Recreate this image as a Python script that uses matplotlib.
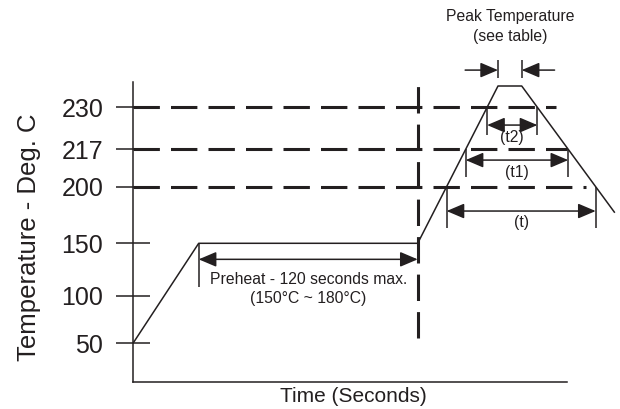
import numpy as np
import matplotlib
matplotlib.use("Agg")
import matplotlib.pyplot as plt

plt.rcParams["font.family"] = ["Liberation Sans", "DejaVu Sans"]
plt.rcParams["lines.scale_dashes"] = False

INK = "#231f20"

# reflow profile: time (s) vs temperature (deg C)
profile_time = [0, 36, 156, 200, 213, 264]
profile_temp = [50, 150, 150, 240, 240, 177]

temp_ticks = [50, 100, 150, 200, 217, 230]

# time-above-limit windows
limit_temps = [230, 217, 200]
limit_ends = [232, 238, 248]
limit_labels = ["(t2)", "(t1)", "(t)"]
arrow_temps = [224.5, 212.1, 178.5]
tick_bottoms = [221.4, 204.4, 163.5]

preheat_start, preheat_end = 36, 156
preheat_arrow_temp = 134.7
preheat_tick_bottom = 108.3
preheat_text_temp = 106.4
preheat_text = "Preheat - 120 seconds max.\n(150°C ~ 180°C)"

marker_time = 156
marker_span = [56, 242]

peak_arrow_temp = 247.4
peak_tick_span = [243.7, 252]
peak_arrow_len = 18
peak_text_temp = 267.7
peak_text = "Peak Temperature\n(see table)"

# the temperature axis of the drawing is not linear: piecewise scale
scale_temps = [12, 50, 100, 150, 200, 217, 230, 240, 280]
scale_pos = [0, 38.4, 86.0, 138.4, 195.0, 232.4, 274.4, 295.7, 381.7]


def fwd(t):
    return np.interp(t, scale_temps, scale_pos)


def inv(p):
    return np.interp(p, scale_pos, scale_temps)


def crossing(level, i):
    # time where profile segment i -> i+1 passes a temperature level
    t0, t1 = profile_time[i], profile_time[i + 1]
    y0, y1 = fwd(profile_temp[i]), fwd(profile_temp[i + 1])
    f = (fwd(level) - y0) / (y1 - y0)
    return t0 + f * (t1 - t0)


fig = plt.figure(figsize=(6.2, 4.09), dpi=100)
ax = fig.add_axes([133 / 620, 27.3 / 409, 487 / 620, 381.7 / 409])
ax.set_yscale("function", functions=(fwd, inv))
ax.set_xlim(0, 487 / 1.825)
ax.set_ylim(12, 280)

solid = dict(color=INK, lw=1.1, solid_capstyle="butt")
dash = dict(color=INK, lw=2.2, dashes=(19, 8), dash_capstyle="butt")
txt = dict(color=INK, fontsize=11.3)
arrow2 = dict(arrowstyle="<|-|>,head_length=0.4,head_width=0.17", mutation_scale=27,
              shrinkA=0, shrinkB=0, color=INK, lw=1.1)
arrow1 = dict(arrowstyle="-|>,head_length=0.4,head_width=0.17", mutation_scale=27,
              shrinkA=0, shrinkB=0, color=INK, lw=1.1)

ax.plot(profile_time, profile_temp, **solid)

for level, end in zip(limit_temps, limit_ends):
    ax.plot([0, end], [level, level], **dash)
ax.plot([marker_time, marker_time], marker_span, **dash)

for level, at, bot, lab in zip(limit_temps, arrow_temps, tick_bottoms, limit_labels):
    xa = crossing(level, 2)
    xb = crossing(level, 4)
    ax.plot([xa, xa], [level, bot], **solid)
    ax.plot([xb, xb], [level, bot], **solid)
    ax.annotate("", xy=(xb, at), xytext=(xa, at), arrowprops=arrow2)
    ax.annotate(lab, ((xa + xb) / 2, at), xytext=(0, -8.6), textcoords="offset points",
                ha="center", va="center", **txt)

# preheat
ax.plot([preheat_start, preheat_start], [150, preheat_tick_bottom], **solid)
ax.annotate("", xy=(preheat_end, preheat_arrow_temp), xytext=(preheat_start, preheat_arrow_temp),
            arrowprops=arrow2)
ax.text((preheat_start + preheat_end) / 2, preheat_text_temp, preheat_text,
        ha="center", va="center", linespacing=1.4, **txt)

# peak
p0, p1 = profile_time[3], profile_time[4]
for x in (p0, p1):
    ax.plot([x, x], peak_tick_span, clip_on=False, **solid)
ax.annotate("", xy=(p0, peak_arrow_temp), xytext=(p0 - peak_arrow_len, peak_arrow_temp),
            arrowprops=arrow1)
ax.annotate("", xy=(p1, peak_arrow_temp), xytext=(p1 + peak_arrow_len, peak_arrow_temp),
            arrowprops=arrow1)
ax.text((p0 + p1) / 2, peak_text_temp, peak_text, ha="center", va="center",
        linespacing=1.38, **txt)

for side in ("top", "right"):
    ax.spines[side].set_visible(False)
ax.spines["left"].set_bounds(12, 242)
ax.spines["bottom"].set_bounds(0, 238)
for side in ("left", "bottom"):
    ax.spines[side].set_color(INK)
    ax.spines[side].set_linewidth(1.1)

ax.set_xticks([])
ax.set_yticks(temp_ticks)
ax.set_yticklabels([str(t) for t in temp_ticks])
ax.yaxis.set_minor_locator(matplotlib.ticker.NullLocator())
ax.tick_params(axis="y", direction="inout", length=25, width=1.1, color=INK,
               labelcolor=INK, labelsize=18, pad=9)

fig.text(29 / 620, 1 - 237.5 / 409, "Temperature - Deg. C", rotation=90,
         ha="center", va="center", color=INK, fontsize=18.5)
fig.text(353 / 620, 1 - 396 / 409, "Time (Seconds)", ha="center", va="center",
         color=INK, fontsize=15)

fig.savefig("out.png", dpi=100)
